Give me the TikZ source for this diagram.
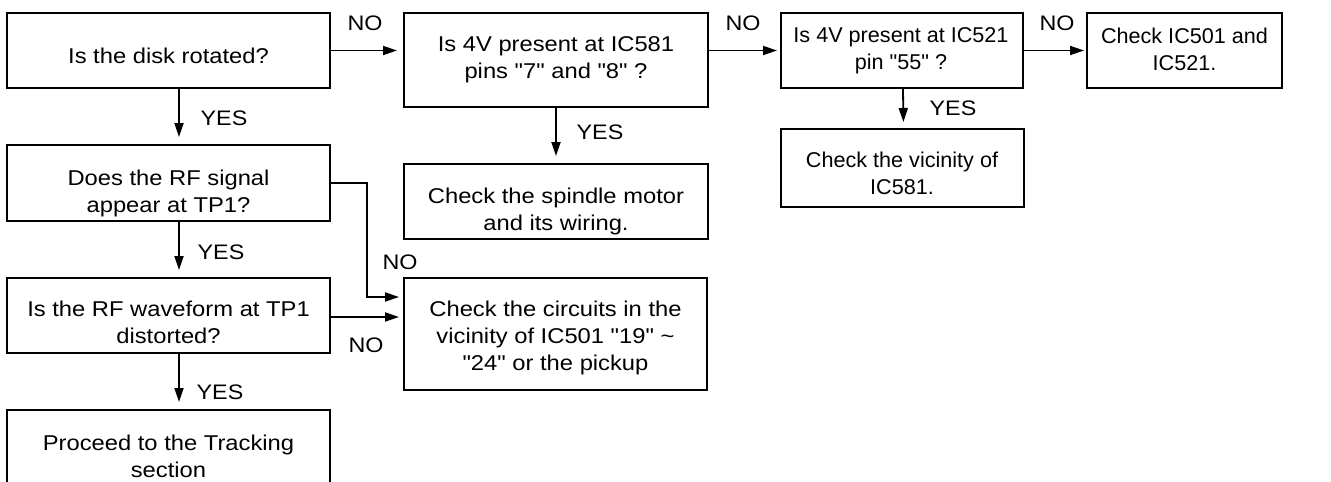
\documentclass[tikz,border=0pt]{standalone}
\usepackage{fontspec}
\newfontfamily\widefam{Liberation Sans}[FakeStretch=1.11]
\newfontfamily\narrowfam{Liberation Sans}[FakeStretch=1.01]
\usetikzlibrary{arrows.meta}
\def\q{\char34\relax}
\begin{document}
\begin{tikzpicture}[x=1pt,y=-1pt,
  box/.style={draw,line width=2pt,inner sep=0pt},
  txt/.style={align=center,inner sep=0pt,anchor=north,
    font=\widefam\fontsize{21.4}{27}\selectfont},
  ntxt/.style={txt,font=\narrowfam\fontsize{21.4}{27}\selectfont},
  lbl/.style={font=\widefam\fontsize{21}{27}\selectfont,inner sep=0pt},
  arr/.style={line width=1.8pt,-{Triangle[length=14pt,width=9pt]}}]
\useasboundingbox (0,0) rectangle (1331,482);
\clip (0,0) rectangle (1331,482);
% boxes
\node[box,minimum width=323pt,minimum height=75pt] (b1) at (168.5,50.5) {};
\node[box,minimum width=323pt,minimum height=76pt] (b2) at (168.5,183) {};
\node[box,minimum width=323pt,minimum height=75pt] (b3) at (168.5,315.5) {};
\node[box,minimum width=323pt,minimum height=91pt,anchor=north] (b4) at (168.5,409) {};
\node[box,minimum width=304pt,minimum height=94pt] (b5) at (556,60) {};
\node[box,minimum width=304pt,minimum height=75pt] (b6) at (556,201.5) {};
\node[box,minimum width=303pt,minimum height=112pt] (b7) at (555.5,334) {};
\node[box,minimum width=242pt,minimum height=75pt] (b8) at (902,50.5) {};
\node[box,minimum width=243pt,minimum height=78pt] (b9) at (902.5,168) {};
\node[box,minimum width=195pt,minimum height=75pt] (b10) at (1184.5,50.5) {};
% texts
\node[txt] (t1) at (168.5,47.5) {Is the disk rotated?};
\node[txt] (t2) at (168.5,169.5) {Does the RF signal\\appear at TP1?};
\node[txt] (t3) at (168.5,300.5) {Is the RF waveform at TP1\\distorted?};
\node[txt] (t4) at (168.5,434.5) {Proceed to the Tracking\\section};
\node[txt] (t5) at (556,36.5) {Is 4V present at IC581\\pins \q7\q{} and \q8\q{} ?};
\node[txt] (t6) at (556,187.5) {Check the spindle motor\\and its wiring.};
\node[txt] (t7) at (555.5,300.5) {Check the circuits in the\\vicinity of IC501 \q19\q{} \char`\~\\\q24\q{} or the pickup};
\node[ntxt] (t8) at (901,27.5) {Is 4V present at IC521\\pin \q55\q{} ?};
\node[ntxt] (t9) at (902,151.5) {Check the vicinity of\\IC581.};
\node[ntxt] (t10) at (1184.5,27.5) {Check IC501 and\\IC521.};
% connectors
\draw[arr,shorten >=6pt] (b1.east) -- (b1.east -| b5.west);
\draw[arr,shorten >=3pt] (b5.east |- b1.east) -- (b8.west);
\draw[arr,shorten >=2pt] (b8.east) -- (b10.west);
\draw[arr,shorten >=7pt] ([xshift=10.5pt]b1.south) -- ([xshift=10.5pt]b2.north);
\draw[arr,shorten >=7pt] ([xshift=10.5pt]b2.south) -- ([xshift=10.5pt]b3.north);
\draw[arr,shorten >=7pt] ([xshift=10.5pt]b3.south) -- ([xshift=10.5pt]b4.north);
\draw[arr,shorten >=7pt] (b5.south) -- (b6.north);
\draw[arr,shorten >=6pt] ([xshift=1pt]b8.south) -- ([xshift=1pt]b9.north);
\coordinate (k1) at (367,183);
\coordinate (k2) at (367,297);
\draw[arr,shorten >=4pt] (b2.east) -- (k1) -- (k2) -- (k2 -| b7.west);
\draw[arr,shorten >=4pt] (b3.east |- 0,317) -- (b7.west |- 0,317);
% labels
\node[lbl] (n1) at (365,23) {NO};
\node[lbl] (n2) at (743,23) {NO};
\node[lbl] (n3) at (1057,23) {NO};
\node[lbl] (n4) at (400,262) {NO};
\node[lbl] (n5) at (366,345) {NO};
\node[lbl] (y1) at (224,118) {YES};
\node[lbl] (y2) at (221,252) {YES};
\node[lbl] (y3) at (220,392) {YES};
\node[lbl] (y4) at (600,132) {YES};
\node[lbl] (y5) at (953,108) {YES};
\end{tikzpicture}
\end{document}
